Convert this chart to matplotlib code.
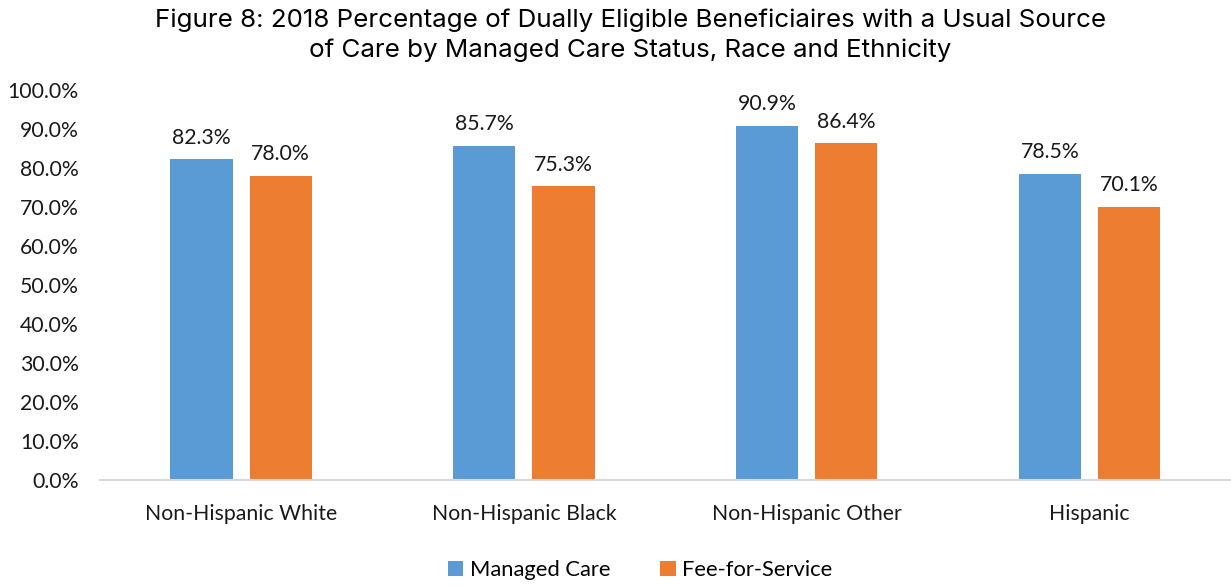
import numpy as np
import matplotlib.pyplot as plt

# Données
categories = ['Non-Hispanic White', 'Non-Hispanic Black', 'Non-Hispanic Other', 'Hispanic']
managed_care = [82.3, 85.7, 90.9, 78.5]
fee_for_service = [78.0, 75.3, 86.4, 70.1]

bleu = '#5B9BD5'
orange = '#ED7D31'

plt.rcParams['font.family'] = ['Lato', 'DejaVu Sans']

fig = plt.figure(figsize=(12.31, 5.86), dpi=100)
ax = fig.add_axes([0.081, 0.181, 0.919, 0.665])

x = np.arange(len(categories))
largeur = 0.22
ecart = 0.14

b1 = ax.bar(x - ecart, managed_care, largeur, color=bleu, label='Managed Care')
b2 = ax.bar(x + ecart, fee_for_service, largeur, color=orange, label='Fee-for-Service')

# Étiquettes de valeurs au-dessus des barres
for barres in (b1, b2):
    for b in barres:
        ax.text(b.get_x() + b.get_width() / 2, b.get_height() + 3.0, f'{b.get_height():.1f}%',
                ha='center', va='bottom', fontsize=15.3, color='#1a1a1a')

ax.set_xlim(-0.5, len(categories) - 0.5)
ax.set_ylim(0, 100)
ax.set_yticks(np.arange(0, 101, 10))
ax.set_yticklabels([f'{v:.1f}%' for v in range(0, 101, 10)])
ax.set_xticks(x)
ax.set_xticklabels(categories)
ax.tick_params(axis='both', length=0, labelsize=15.3, colors='#1a1a1a')
ax.tick_params(axis='x', pad=17)
ax.tick_params(axis='y', pad=15)

for s in ['top', 'right', 'left']:
    ax.spines[s].set_visible(False)
ax.spines['bottom'].set_color('#d9d9d9')
ax.spines['bottom'].set_linewidth(1.5)

fig.text(0.512, 0.985, "Figure 8: 2018 Percentage of Dually Eligible Beneficiaires with a Usual Source\nof Care by Managed Care Status, Race and Ethnicity",
         ha='center', va='top', fontsize=18.7, family=['Inter', 'DejaVu Sans'], linespacing=1.35)

fig.legend(loc='lower center', bbox_to_anchor=(0.52, -0.024), ncol=2, frameon=False,
           fontsize=15.8, handlelength=0.7, handleheight=0.7, handletextpad=0.3, columnspacing=2.3)

fig.savefig('out.png', dpi=100)
